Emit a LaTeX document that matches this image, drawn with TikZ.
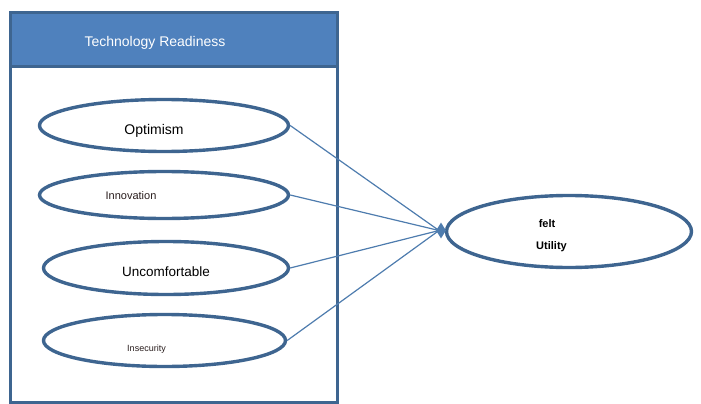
\documentclass[tikz,border=0pt]{standalone}
\usepackage{fontspec}
\setmainfont{Liberation Sans}
\usetikzlibrary{shapes.geometric}
\definecolor{frameblue}{HTML}{3E6590}
\definecolor{headblue}{HTML}{4F81BD}
\definecolor{linkblue}{HTML}{4E7CAE}
\definecolor{darktext}{HTML}{2A1E1E}
\begin{document}
\begin{tikzpicture}[x=1pt,y=-1pt,
  oval/.style={ellipse, draw=frameblue, line width=3.4pt, fill=white, inner sep=0pt},
  link/.style={draw=linkblue, line width=1.2pt},
  lbl/.style={inner sep=0pt, anchor=center}]
\useasboundingbox (0,0) rectangle (701,404);
% outer frame and header
\node[draw=frameblue, line width=3pt, fill=headblue, minimum width=327pt, minimum height=54pt, inner sep=0pt, anchor=north west] (head) at (9,11.5) {};
\node[draw=frameblue, line width=3pt, fill=white, minimum width=327pt, minimum height=335pt, inner sep=0pt, anchor=north west] (frame) at (9,65.5) {};
\node[lbl, text=white, font=\fontsize{14}{16}\selectfont] (title) at (155,43) {Technology Readiness};
% ellipses
\node[oval, minimum width=249pt, minimum height=52pt] (e1) at (164,125.5) {};
\node[oval, minimum width=249pt, minimum height=47pt] (e2) at (164,195) {};
\node[oval, minimum width=245pt, minimum height=53pt] (e3) at (166,268) {};
\node[oval, minimum width=242pt, minimum height=52pt] (e4) at (164.5,340.5) {};
\node[oval, minimum width=245pt, minimum height=72pt] (out) at (569,231.5) {};
% texts
\node[lbl, font=\fontsize{14}{16}\selectfont] (t1) at (154,131) {Optimism};
\node[lbl, text=darktext, font=\fontsize{11}{13}\selectfont] (t2) at (131,196) {Innovation};
\node[lbl, font=\fontsize{13.5}{16}\selectfont] (t3) at (166,272) {Uncomfortable};
\node[lbl, text=darktext, font=\fontsize{9}{11}\selectfont] (t4) at (146.5,349) {Insecurity};
\node[lbl, font=\bfseries\fontsize{11}{13}\selectfont] (t5) at (547,224) {felt};
\node[lbl, font=\bfseries\fontsize{11}{13}\selectfont] (t6) at (551.5,247) {Utility};
% hub
\coordinate (hub) at (439,230.5);
\draw[link] (e1.east) -- (hub);
\draw[link] (e2.east) -- (hub);
\draw[link] (e3.east) -- (hub);
\draw[link] (e4.east) -- (hub);
\node[diamond, fill=linkblue, inner sep=0pt, minimum width=10pt, minimum height=16pt] (tip) at (441,230.5) {};
\end{tikzpicture}
\end{document}
